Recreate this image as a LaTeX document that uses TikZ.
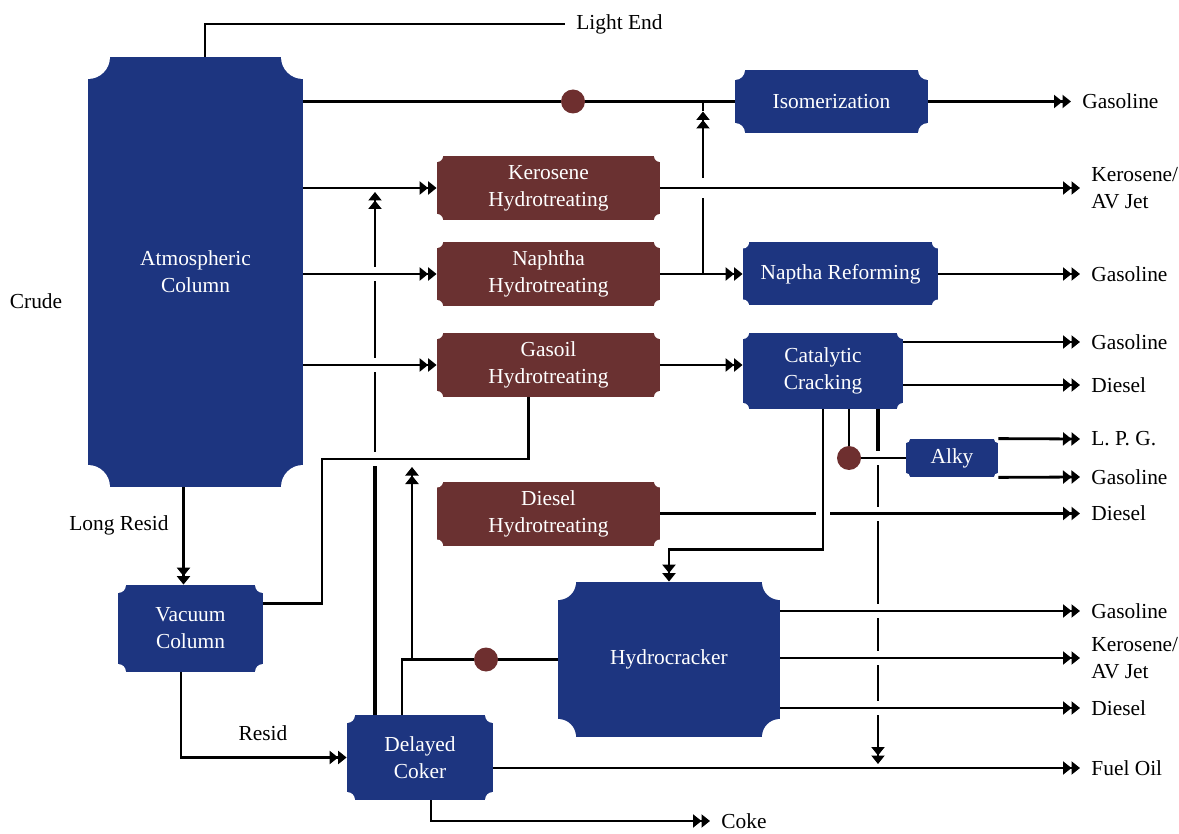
\documentclass[tikz,border=0pt]{standalone}
\usepackage{fontspec}
\setmainfont{Liberation Serif}
\usetikzlibrary{arrows.meta,positioning,calc}
\definecolor{unitblue}{HTML}{1D3580}
\definecolor{treatbrown}{HTML}{6A3131}
\definecolor{valvered}{HTML}{6E2F2F}
\newcommand\plantfont{\fontsize{10.7}{13.5}\selectfont}
\tikzset{
  unitbox/.style={
    fill=unitblue,
    text=white,
    font=\plantfont,
    align=center,
    inner sep=0pt,
    path picture={
      \foreach \corner in {north west,north east,south west,south east}
        \fill[white] (path picture bounding box.\corner) circle[radius=#1];
    }
  },
  unitbox/.default=3pt,
  treatbox/.style={
    unitbox,
    fill=treatbrown,
    minimum width=111.5pt,
    minimum height=32pt
  },
  stream/.style={line width=1.4pt, draw=black},
  feed/.style={
    stream,
    -{Triangle[length=4.25pt,width=6.5pt]Triangle[length=4.25pt,width=6.5pt]}
  },
  hop/.style={preaction={draw=white, line width=#1, -}},
  hop/.default=7pt,
  valve/.style={circle, fill=valvered, minimum size=12pt, inner sep=0pt},
  outlabel/.style={anchor=west, font=\plantfont, align=left, inner xsep=5.5pt, inner ysep=1pt}
}

\begin{document}
\begin{tikzpicture}[x=0.5pt,y=-0.5pt]
\useasboundingbox (0,0) rectangle (1179,834);

% process units
\node[unitbox=11pt, minimum width=107.5pt, minimum height=215pt] (atm) at (195.5,272) {Atmospheric\\Column};
\node[unitbox=5pt, minimum width=96.5pt, minimum height=31.5pt] (iso) at (831.5,101.5) {Isomerization};
\node[treatbox] (kero) at (548.5,188) {Kerosene\\Hydrotreating};
\node[treatbox] (naph) at (548.5,274) {Naphtha\\Hydrotreating};
\node[treatbox] (gasoil) at (548.5,365) {Gasoil\\Hydrotreating};
\node[treatbox] (diesel) at (548.5,513.5) {Diesel\\Hydrotreating};
\node[unitbox, minimum width=97.5pt, minimum height=31.5pt] (reform) at (840.5,274) {Naptha Reforming};
\node[unitbox, minimum width=80pt, minimum height=38pt] (cat) at (823,371) {Catalytic\\Cracking};
\node[unitbox=2pt, minimum width=46pt, minimum height=19pt] (alky) at (952,458) {Alky};
\node[unitbox=4pt, minimum width=72.5pt, minimum height=43.5pt] (vac) at (190.5,628.5) {Vacuum\\Column};
\node[unitbox=4pt, minimum width=73pt, minimum height=42.5pt] (coker) at (420,757.5) {Delayed\\Coker};
\node[unitbox=9pt, minimum width=111pt, minimum height=77.5pt] (hcr) at (669,659.5) {Hydrocracker};

% mixing points
\node[valve] (v1) at (573,101.5) {};
\node[valve] (v2) at (849,458) {};
\node[valve] (v3) at (486,659.5) {};

% products and stream names
\node[outlabel] (lightend) at (565,24) {Light End};
\node[outlabel] (gas1) at (1071,101.5) {Gasoline};
\node[outlabel] (jet1) at (1080,188) {Kerosene/\\AV Jet};
\node[outlabel] (gas2) at (1080,274) {Gasoline};
\node[outlabel] (gas3) at (1080,342) {Gasoline};
\node[outlabel] (dsl1) at (1080,385) {Diesel};
\node[outlabel] (lpg) at (1080,439) {L. P. G.};
\node[outlabel] (gas4) at (1080,477) {Gasoline};
\node[outlabel] (dsl2) at (1080,513.5) {Diesel};
\node[outlabel] (gas5) at (1080,611) {Gasoline};
\node[outlabel] (jet2) at (1080,658) {Kerosene/\\AV Jet};
\node[outlabel] (dsl3) at (1080,708) {Diesel};
\node[outlabel] (fuel) at (1080,768) {Fuel Oil};
\node[outlabel] (coke) at (710,821) {Coke};
\node[font=\plantfont] (crude) at (36,301) {Crude};
\node[font=\plantfont] (longresid) at (119,525) {Long Resid};
\node[font=\plantfont] (resid) at (263,733) {Resid};

\coordinate (kerojoin) at (375,188);
\coordinate (vacjoin) at (412,459);
\coordinate (vacbend) at (322,459);
\coordinate (isojoin) at (703,101.5);
\coordinate (fueljoin) at (878,768);
\coordinate (cokertee) at (402,659.5);

% risers that other streams hop over
\draw[feed, shorten >=2pt] (coker.north -| kerojoin) -- (kerojoin);
\draw[stream, line width=2.1pt] (coker.north -| kerojoin) -- (kerojoin |- vacjoin);
\draw[feed] (isojoin |- naph.east) -- ([yshift=-5pt]isojoin);
\draw[stream] ([yshift=-5pt]isojoin) -- (isojoin);
\draw[feed, shorten >=2pt] (cat.south -| fueljoin) -- (fueljoin);
\draw[stream, line width=2.1pt] (cat.south -| fueljoin) -- (fueljoin |- alky.west);

% crossing streams
\draw[feed, hop] (atm.east |- naph.west) -- (naph.west);
\draw[feed, hop] (atm.east |- gasoil.west) -- (gasoil.west);
\draw[stream, hop] ([yshift=12.5pt]vac.east) -| (vacbend) -| ([xshift=-10pt]gasoil.south);
\draw[feed, hop=10pt] (kero.east) -- (jet1.west);
\draw[feed, hop] (diesel.east) -- (dsl2.west);
\draw[stream, hop] (v2) -- (alky.west);
\draw[feed, hop] (hcr.east |- gas5.west) -- (gas5.west);
\draw[feed, hop] (hcr.east |- jet2.west) -- (jet2.west);
\draw[feed, hop] (hcr.east |- dsl3.west) -- (dsl3.west);
\draw[feed, hop] (cat.south) -- ++(0,140) -| (hcr.north);

% remaining streams
\draw[stream] ([xshift=4.75pt]atm.north) |- (lightend.west);
\draw[stream] (atm.east |- iso.west) -- (v1) -- (iso.west);
\draw[feed] (iso.east) -- (gas1.west);
\draw[feed] (atm.east |- kero.west) -- (kero.west);
\draw[feed] (naph.east) -- (reform.west);
\draw[feed] (reform.east) -- (gas2.west);
\draw[feed] (gasoil.east) -- (gasoil.east -| cat.west);
\draw[feed] (cat.east |- gas3.west) -- (gas3.west);
\draw[feed] (cat.east |- dsl1.west) -- (dsl1.west);
\draw[stream] (cat.south -| v2) -- (v2);
\draw[feed] (alky.north east) -- (lpg.west);
\draw[feed] (alky.south east) -- (gas4.west);
\draw[feed] ([xshift=-6pt]atm.south) -- ([xshift=-6pt]atm.south |- vac.north);
\draw[feed] ([xshift=-4.75pt]vac.south) |- (coker.west);
\draw[stream] (hcr.west) -- (v3) -- (cokertee) -- (cokertee |- coker.north);
\draw[feed, shorten >=4pt] (v3 -| vacjoin) -- (vacjoin);
\draw[feed] (coker.east |- fuel.west) -- (fuel.west);
\draw[feed] ([xshift=5.5pt]coker.south) |- (coke.west);
\end{tikzpicture}
\end{document}
